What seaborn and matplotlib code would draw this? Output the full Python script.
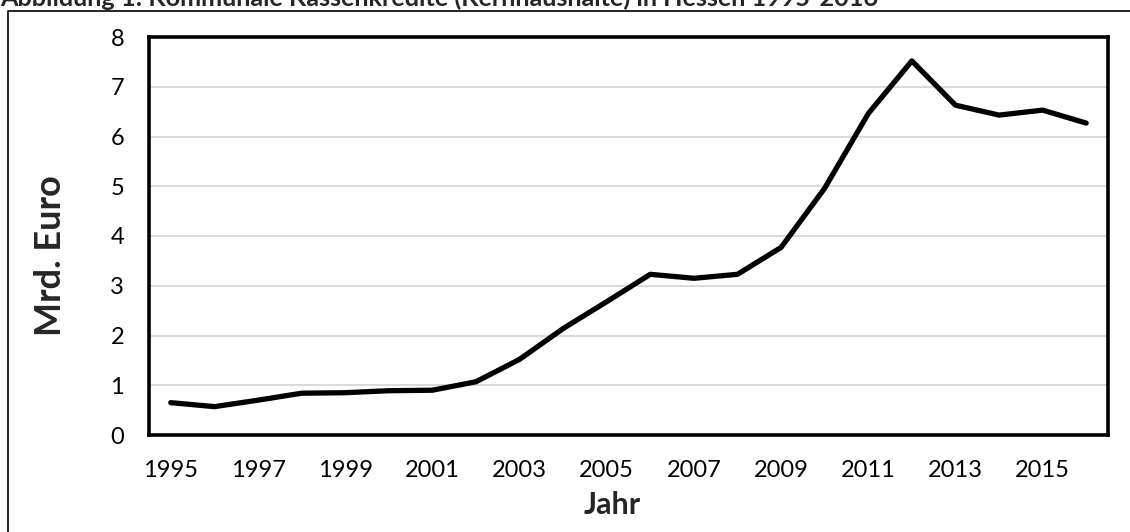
import pandas as pd
import matplotlib.pyplot as plt
from matplotlib.lines import Line2D
import seaborn as sns

years = list(range(1995, 2017))
kassenkredite = [0.65, 0.57, 0.70, 0.84, 0.85, 0.89, 0.90, 1.07, 1.52, 2.14, 2.68,
                 3.23, 3.15, 3.23, 3.77, 4.96, 6.46, 7.52, 6.63, 6.43, 6.53, 6.27]
y_ticks = [0, 1, 2, 3, 4, 5, 6, 7, 8]
x_ticks = years[::2]

title = 'Abbildung 1: Kommunale Kassenkredite (Kernhaushalte) in Hessen 1995-2016'

df = pd.DataFrame({'Jahr': years, 'Mrd. Euro': kassenkredite})

sns.set_style('white')
plt.rcParams['font.family'] = ['Lato', 'DejaVu Sans']

fig = plt.figure(figsize=(11.3, 5.32), dpi=100)
ax = fig.add_axes([149 / 1130, 97 / 532, 959 / 1130, 398 / 532])

sns.lineplot(data=df, x='Jahr', y='Mrd. Euro', color='black', linewidth=3.8, ax=ax)

ax.set_xlim(1994.5, 2016.5)
ax.set_ylim(0, 8)
ax.set_yticks(y_ticks)
ax.set_xticks(x_ticks)
ax.grid(axis='y', color='#d9d9d9', linewidth=1.4)
ax.set_axisbelow(True)
for s in ax.spines.values():
    s.set_visible(True)
    s.set_color('black')
    s.set_linewidth(2.6)
ax.tick_params(axis='both', length=0, labelsize=17, colors='black')
ax.tick_params(axis='y', pad=18)
ax.tick_params(axis='x', pad=18)
ax.set_xlabel('Jahr', fontsize=22, fontweight='bold')
ax.set_ylabel('Mrd. Euro', fontsize=26, fontweight='bold')
ax.xaxis.set_label_coords(0.483, -0.14)
ax.yaxis.set_label_coords(-0.085, 0.45)

# outer frame (only left and top edges visible in the screenshot)
fig.add_artist(Line2D([7.5 / 1130, 7.5 / 1130, 1.0], [0.0, 1 - 10.5 / 532, 1 - 10.5 / 532],
                      transform=fig.transFigure, color='black', linewidth=1.2))
fig.text(0.0, 1 - 6 / 532, title, fontsize=18.2, fontweight='bold', ha='left', va='baseline')

fig.savefig('out.png', dpi=100)
